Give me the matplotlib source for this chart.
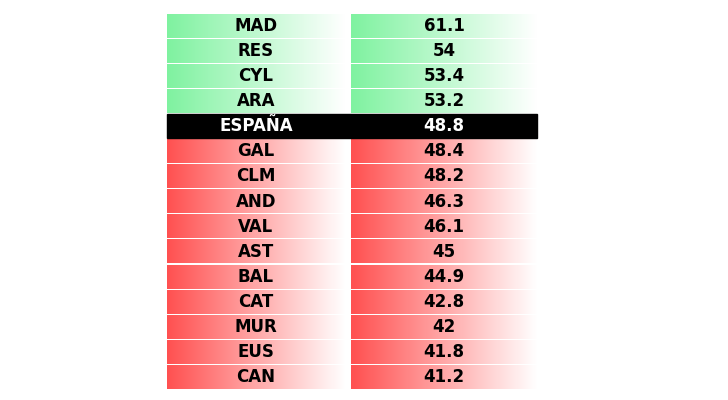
import numpy as np
import matplotlib.pyplot as plt
from matplotlib.colors import LinearSegmentedColormap

regions = ['MAD', 'RES', 'CYL', 'ARA', 'ESPAÑA', 'GAL', 'CLM', 'AND', 'VAL',
           'AST', 'BAL', 'CAT', 'MUR', 'EUS', 'CAN']
values = [61.1, 54, 53.4, 53.2, 48.8, 48.4, 48.2, 46.3, 46.1, 45, 44.9, 42.8, 42, 41.8, 41.2]
reference = 'ESPAÑA'

plt.rcParams['font.family'] = ['Liberation Sans Narrow', 'DejaVu Sans']

fig = plt.figure(figsize=(7.28, 4.0), dpi=100)
ax = fig.add_axes([0, 0, 1, 1])
ax.set_xlim(0, 728)
ax.set_ylim(400, 0)
ax.axis('off')

green = LinearSegmentedColormap.from_list('g', ['#7ff2a0', '#ffffff'])
red = LinearSegmentedColormap.from_list('r', ['#ff5050', '#ffffff'])
grad = np.linspace(0, 1, 256).reshape(1, -1)

ref_val = values[regions.index(reference)]
cols = [(167, 345), (351, 537)]
top, step, h = 14, 25.1, 23.6

for i, (name, v) in enumerate(zip(regions, values)):
    y0 = top + i * step
    yc = y0 + h / 2
    if name == reference:
        ax.add_patch(plt.Rectangle((cols[0][0], y0), cols[1][1] - cols[0][0], h,
                                   color='black'))
        ax.text(sum(cols[0]) / 2, yc, name, color='white', ha='center', va='center',
                fontsize=12, fontweight='bold')
        ax.text(sum(cols[1]) / 2, yc, f'{v:g}', color='white', ha='center', va='center',
                fontsize=12, fontweight='bold')
        continue
    cmap = green if v > ref_val else red
    for (x0, x1), label in zip(cols, [name, f'{v:g}']):
        ax.imshow(grad, cmap=cmap, extent=(x0, x1, y0 + h, y0), aspect='auto',
                  interpolation='bilinear')
        ax.text((x0 + x1) / 2, yc, label, color='black', ha='center', va='center',
                fontsize=12, fontweight='bold')

ax.set_xlim(0, 728)
ax.set_ylim(400, 0)
fig.savefig('out.png', dpi=100)
